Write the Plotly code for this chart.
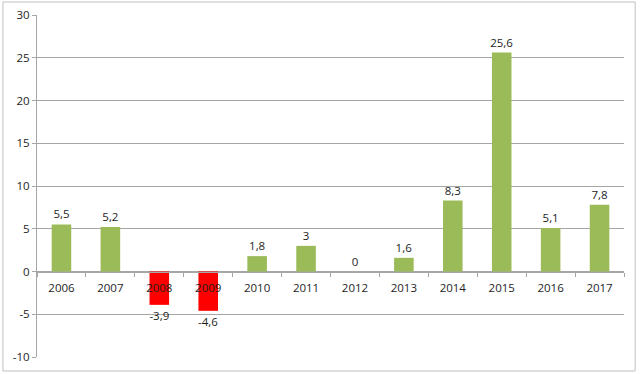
import plotly.graph_objects as go

years = ["2006", "2007", "2008", "2009", "2010", "2011", "2012", "2013", "2014", "2015", "2016", "2017"]
values = [5.5, 5.2, -3.9, -4.6, 1.8, 3, 0, 1.6, 8.3, 25.6, 5.1, 7.8]
y_ticks = [-10, -5, 0, 5, 10, 15, 20, 25, 30]

GREEN = "#9BBB59"
RED = "#FF0000"
GRID = "#A6A6A6"
TEXT = "#1E1E1E"

colors = [RED if v < 0 else GREEN for v in values]
labels = [(f"{v:g}").replace(".", ",") for v in values]

fig = go.Figure(go.Bar(
    x=years, y=values, marker_color=colors, marker_line_width=0,
    text=labels, textposition="outside", cliponaxis=False,
    constraintext="none",
    textfont=dict(size=11.5, color=TEXT, family="Open Sans"),
    width=0.4,
))

fig.update_layout(
    width=640, height=374,
    margin=dict(l=37, r=16, t=15, b=17, autoexpand=False),
    paper_bgcolor="white", plot_bgcolor="white",
    showlegend=False,
    font=dict(family="Open Sans", size=11.5, color=TEXT),
    xaxis=dict(
        type="category", range=[-0.5, 11.5],
        anchor="free", position=0.25, automargin=False,
        showline=True, linecolor=GRID, linewidth=1,
        ticks="outside", tickson="boundaries", ticklen=4, tickcolor=GRID,
        ticklabelstandoff=6,
        showgrid=False, tickfont=dict(size=11.5, color=TEXT),
    ),
    yaxis=dict(
        range=[-10, 30], tickvals=y_ticks, ticktext=[str(t) for t in y_ticks],
        automargin=False,
        showgrid=True, gridcolor=GRID, gridwidth=1,
        zeroline=False,
        showline=True, linecolor=GRID, linewidth=1,
        ticks="outside", ticklen=4, tickcolor=GRID,
        tickfont=dict(size=11.5, color=TEXT),
    ),
    shapes=[dict(
        type="rect", xref="paper", yref="paper",
        x0=-0.058, x1=1.019, y0=-0.041, y1=1.038,
        line=dict(color="#BFBFBF", width=1), layer="below",
    )],
)

fig.write_html("out.html", config={"displayModeBar": False},
               post_script="document.body.style.margin='0';")
